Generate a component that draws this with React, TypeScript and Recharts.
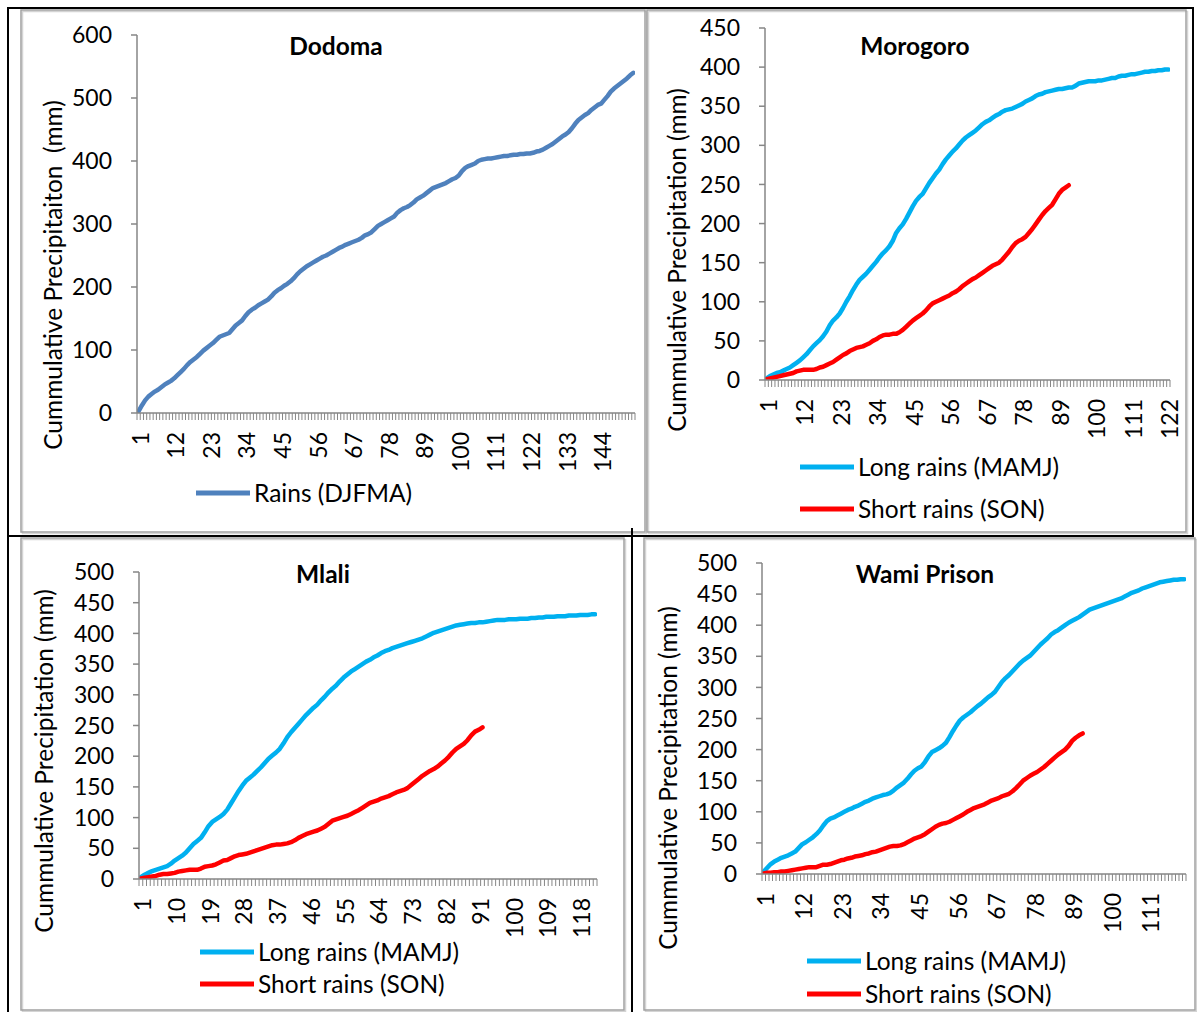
import React from "react"
import { LineChart, Line, XAxis, YAxis } from "recharts"

const FONT = "Lato, 'Open Sans', sans-serif"
const AXIS = "#868686"
const BLUE = "#4F81BD"
const CYAN = "#00B0F0"
const RED = "#FF0000"

function range(n: number) {
  return Array.from({ length: n }, (_, i) => i + 1)
}

// ---------------- data ----------------

// Dodoma (DJFMA)
const dodomaDays = range(154)
const dodomaXLabels = [1, 12, 23, 34, 45, 56, 67, 78, 89, 100, 111, 122, 133, 144]
const dodomaYTicks = [0, 100, 200, 300, 400, 500, 600]
const dodomaRains = [
  3, 12, 20, 26, 30, 34, 37, 41, 45, 48,
  51, 55, 60, 65, 70, 76, 81, 85, 89, 94,
  99, 103, 107, 111, 116, 121, 123, 125, 127, 133,
  139, 143, 147, 154, 160, 164, 167, 171, 174, 177,
  180, 185, 191, 195, 198, 202, 205, 209, 214, 220,
  225, 229, 233, 236, 239, 242, 245, 248, 250, 253,
  256, 259, 262, 264, 267, 269, 271, 273, 275, 278,
  282, 284, 287, 292, 297, 300, 303, 306, 309, 312,
  318, 322, 325, 327, 330, 334, 339, 342, 345, 349,
  353, 357, 359, 361, 363, 365, 368, 371, 373, 377,
  384, 389, 392, 394, 396, 400, 402, 403, 404, 404,
  405, 406, 407, 408, 408, 409, 410, 410, 411, 411,
  412, 412, 413, 415, 416, 418, 421, 424, 427, 431,
  435, 439, 442, 446, 452, 459, 465, 469, 473, 476,
  481, 485, 489, 491, 497, 503, 510, 515, 519, 523,
  527, 531, 536, 540,
]

// Morogoro
const moroDays = range(122)
const moroXLabels = [1, 12, 23, 34, 45, 56, 67, 78, 89, 100, 111, 122]
const moroYTicks = [0, 50, 100, 150, 200, 250, 300, 350, 400, 450]
const moroLong = [
  2, 5, 7, 9, 10, 12, 14, 16, 19, 22,
  25, 29, 33, 38, 43, 47, 51, 56, 62, 70,
  76, 80, 85, 92, 100, 107, 115, 122, 128, 132,
  136, 141, 146, 151, 157, 162, 166, 171, 178, 188,
  194, 199, 206, 214, 222, 229, 234, 238, 245, 252,
  258, 264, 269, 276, 282, 287, 292, 296, 301, 306,
  310, 313, 316, 319, 323, 327, 330, 332, 335, 338,
  340, 343, 345, 346, 347, 349, 351, 353, 356, 358,
  360, 363, 365, 366, 368, 369, 370, 371, 372, 372,
  373, 374, 374, 376, 379, 380, 381, 382, 382, 382,
  383, 383, 384, 385, 386, 386, 388, 389, 389, 390,
  391, 391, 392, 393, 394, 394, 395, 395, 396, 396,
  397, 397,
]
const moroShort = [
  1, 2, 3, 4, 5, 6, 7, 8, 9, 11,
  12, 13, 13, 13, 13, 14, 16, 17, 19, 21,
  23, 26, 29, 32, 34, 37, 39, 41, 42, 43,
  45, 47, 50, 52, 55, 57, 58, 58, 59, 59,
  61, 64, 68, 72, 76, 79, 82, 85, 89, 94,
  98, 100, 102, 104, 106, 108, 111, 113, 116, 120,
  123, 126, 129, 131, 134, 137, 140, 143, 146, 148,
  150, 154, 159, 164, 170, 175, 178, 180, 183, 188,
  193, 199, 205, 211, 216, 220, 224, 231, 238, 243,
  246, 249,
]

// Mlali
const mlaliDays = range(122)
const mlaliXLabels = [1, 10, 19, 28, 37, 46, 55, 64, 73, 82, 91, 100, 109, 118]
const mlaliYTicks = [0, 50, 100, 150, 200, 250, 300, 350, 400, 450, 500]
const mlaliLong = [
  3, 7, 10, 13, 15, 17, 19, 21, 25, 30,
  34, 38, 43, 50, 57, 62, 67, 76, 86, 93,
  97, 101, 106, 113, 123, 133, 143, 152, 160, 165,
  170, 176, 182, 189, 196, 201, 206, 212, 221, 231,
  239, 246, 253, 260, 267, 273, 279, 284, 291, 297,
  304, 310, 315, 322, 328, 333, 338, 342, 346, 350,
  354, 357, 361, 364, 368, 371, 373, 376, 378, 380,
  382, 384, 386, 388, 390, 392, 395, 398, 401, 403,
  405, 407, 409, 411, 413, 414, 415, 416, 417, 417,
  418, 418, 419, 420, 421, 422, 422, 422, 423, 423,
  423, 424, 424, 424, 425, 425, 426, 426, 427, 427,
  427, 428, 428, 428, 429, 429, 429, 430, 430, 430,
  431, 431,
]
const mlaliShort = [
  1, 2, 3, 4, 5, 7, 8, 8, 9, 10,
  12, 13, 14, 15, 15, 15, 17, 20, 21, 22,
  24, 27, 30, 31, 34, 37, 39, 40, 41, 43,
  45, 47, 49, 51, 53, 55, 56, 56, 57, 58,
  60, 63, 67, 70, 73, 75, 77, 79, 82, 85,
  90, 95, 97, 99, 101, 103, 106, 109, 112, 116,
  120, 124, 126, 128, 131, 133, 135, 138, 141, 143,
  145, 148, 153, 158, 163, 168, 172, 176, 179, 183,
  188, 193, 199, 206, 212, 216, 220, 226, 234, 240,
  243, 247,
]

// Wami Prison
const wamiDays = range(121)
const wamiXLabels = [1, 12, 23, 34, 45, 56, 67, 78, 89, 100, 111]
const wamiYTicks = [0, 50, 100, 150, 200, 250, 300, 350, 400, 450, 500]
const wamiLong = [
  4, 10, 16, 20, 23, 26, 28, 30, 33, 36,
  42, 48, 51, 55, 59, 64, 70, 78, 85, 89,
  91, 94, 97, 100, 103, 105, 108, 110, 113, 116,
  118, 121, 123, 125, 127, 128, 130, 134, 139, 143,
  147, 153, 160, 166, 170, 173, 180, 189, 196, 199,
  202, 206, 211, 220, 230, 239, 247, 252, 256, 260,
  265, 270, 274, 279, 284, 288, 293, 301, 309, 315,
  320, 326, 332, 338, 343, 347, 351, 357, 363, 369,
  374, 379, 385, 389, 392, 396, 400, 404, 407, 410,
  413, 417, 421, 425, 427, 429, 431, 433, 435, 437,
  439, 441, 443, 446, 449, 452, 454, 456, 459, 461,
  463, 465, 467, 469, 470, 471, 472, 473, 473, 474,
  474,
]
const wamiShort = [
  1, 2, 2, 3, 3, 4, 4, 5, 6, 7,
  8, 9, 10, 11, 11, 11, 13, 15, 15, 16,
  18, 20, 22, 23, 25, 26, 28, 29, 30, 32,
  33, 35, 36, 38, 40, 42, 44, 45, 45, 46,
  48, 51, 54, 57, 59, 61, 64, 68, 72, 76,
  79, 81, 82, 84, 87, 90, 93, 96, 100, 103,
  106, 108, 110, 112, 115, 118, 120, 122, 125, 127,
  129, 133, 138, 144, 150, 154, 158, 161, 164, 168,
  172, 177, 182, 187, 192, 196, 200, 206, 214, 219,
  223, 226,
]

// ---------------- layout ----------------

type Series = { name: string; values: number[]; color: string }
type PanelSpec = {
  title: string
  titleX: number
  titleY: number
  yLabel: string
  yLabelX: number
  yLabelY: number
  frame: { x: number; y: number; w: number; h: number }
  plot: { left: number; top: number; right: number; bottom: number }
  yMax: number
  yTicks: number[]
  days: number[]
  labels: number[]
  series: Series[]
  legendX: number
  legendYs: number[]
}

const panels: PanelSpec[] = [
  {
    title: "Dodoma", titleX: 336, titleY: 55,
    yLabel: "Cummulative Precipitaiton  (mm)", yLabelX: 62, yLabelY: 275,
    frame: { x: 21, y: 10, w: 624, h: 522 },
    plot: { left: 137, top: 35, right: 635, bottom: 413 },
    yMax: 600, yTicks: dodomaYTicks, days: dodomaDays, labels: dodomaXLabels,
    series: [{ name: "Rains (DJFMA)", values: dodomaRains, color: BLUE }],
    legendX: 196, legendYs: [493],
  },
  {
    title: "Morogoro", titleX: 915, titleY: 55,
    yLabel: "Cummulative Precipitation (mm)", yLabelX: 686, yLabelY: 260,
    frame: { x: 647, y: 10, w: 539, h: 522 },
    plot: { left: 765, top: 28, right: 1170, bottom: 380 },
    yMax: 450, yTicks: moroYTicks, days: moroDays, labels: moroXLabels,
    series: [
      { name: "Long rains (MAMJ)", values: moroLong, color: CYAN },
      { name: "Short rains (SON)", values: moroShort, color: RED },
    ],
    legendX: 800, legendYs: [467, 509],
  },
  {
    title: "Mlali", titleX: 323, titleY: 583,
    yLabel: "Cummulative Precipitation (mm)", yLabelX: 53, yLabelY: 761,
    frame: { x: 21, y: 538, w: 603, h: 472 },
    plot: { left: 139, top: 572, right: 597, bottom: 879 },
    yMax: 500, yTicks: mlaliYTicks, days: mlaliDays, labels: mlaliXLabels,
    series: [
      { name: "Long rains (MAMJ)", values: mlaliLong, color: CYAN },
      { name: "Short rains (SON)", values: mlaliShort, color: RED },
    ],
    legendX: 200, legendYs: [952, 984],
  },
  {
    title: "Wami Prison", titleX: 925, titleY: 583,
    yLabel: "Cummulative Precipitation (mm)", yLabelX: 677, yLabelY: 778,
    frame: { x: 644, y: 538, w: 551, h: 472 },
    plot: { left: 762, top: 563, right: 1186, bottom: 874 },
    yMax: 500, yTicks: wamiYTicks, days: wamiDays, labels: wamiXLabels,
    series: [
      { name: "Long rains (MAMJ)", values: wamiLong, color: CYAN },
      { name: "Short rains (SON)", values: wamiShort, color: RED },
    ],
    legendX: 807, legendYs: [961, 994],
  },
]

function buildRows(days: number[], series: number[][]) {
  return days.map((d, i) => {
    const row: any = { day: d }
    series.forEach((s, j) => {
      if (i < s.length) row[`s${j}`] = s[i]
    })
    return row
  })
}

// category tick: hatch mark at every category boundary, label only on listed days
function DayTick(props: any) {
  const { x, y, payload, bw, labels, last } = props
  const v = payload.value
  return (
    <g>
      <line x1={x - bw / 2} x2={x - bw / 2} y1={y} y2={y + 7} stroke={AXIS} strokeWidth={1} />
      {v === last && (
        <line x1={x + bw / 2} x2={x + bw / 2} y1={y} y2={y + 7} stroke={AXIS} strokeWidth={1} />
      )}
      {labels.includes(v) && (
        <text
          transform={`translate(${x + 2},${y + 19}) rotate(-90)`}
          textAnchor="end"
          dy="0.35em"
          fontSize={23}
          fontFamily={FONT}
          fill="#000"
        >
          {v}
        </text>
      )}
    </g>
  )
}

function Panel({ p }: { p: PanelSpec }) {
  const YW = 80
  const XH = 60
  const { frame, plot } = p
  const N = p.days.length
  const bw = (plot.right - plot.left) / N
  const margin = {
    left: plot.left - frame.x - YW,
    top: plot.top - frame.y,
    right: frame.x + frame.w - plot.right,
    bottom: frame.y + frame.h - plot.bottom - XH,
  }
  const rows = buildRows(p.days, p.series.map((s) => s.values))

  return (
    <div style={{ position: "absolute", left: frame.x, top: frame.y }}>
      <LineChart width={frame.w} height={frame.h} data={rows} margin={margin}>
        <XAxis
          dataKey="day"
          type="number"
          domain={[0.5, N + 0.5]}
          ticks={p.days}
          interval={0}
          height={XH}
          tickSize={0}
          tickMargin={0}
          tickLine={false}
          axisLine={{ stroke: AXIS, strokeWidth: 1.5 }}
          tick={(t: any) => <DayTick {...t} bw={bw} labels={p.labels} last={N} />}
          allowDataOverflow
        />
        <YAxis
          type="number"
          domain={[0, p.yMax]}
          ticks={p.yTicks}
          interval={0}
          width={YW}
          tickSize={6}
          tickMargin={19}
          axisLine={{ stroke: AXIS, strokeWidth: 1.5 }}
          tickLine={{ stroke: AXIS, strokeWidth: 1.5 }}
          tick={{ fill: "#000", fontSize: 23, fontFamily: FONT }}
          allowDataOverflow
        />
        {p.series.map((s, j) => (
          <Line
            key={s.name}
            dataKey={`s${j}`}
            type="linear"
            stroke={s.color}
            strokeWidth={4.5}
            strokeLinejoin="round"
            strokeLinecap="round"
            dot={false}
            activeDot={false}
            isAnimationActive={false}
          />
        ))}
      </LineChart>
    </div>
  )
}

function Overlay() {
  return (
    <svg
      width={1197}
      height={1012}
      style={{ position: "absolute", left: 0, top: 0, pointerEvents: "none" }}
    >
      {/* chart area frames */}
      {panels.map((p) => (
        <g key={p.title}>
          <rect
            x={p.frame.x + 1.5}
            y={p.frame.y + 1.5}
            width={p.frame.w}
            height={p.frame.h}
            fill="none"
            stroke="#d4d4d4"
            strokeWidth={1.5}
          />
          <rect
            x={p.frame.x}
            y={p.frame.y}
            width={p.frame.w}
            height={p.frame.h}
            fill="none"
            stroke="#a0a0a0"
            strokeWidth={1.5}
          />
        </g>
      ))}

      {/* table lines */}
      <g stroke="#000" strokeWidth={2}>
        <line x1={7} y1={8} x2={1194} y2={8} />
        <line x1={8} y1={7} x2={8} y2={1012} />
        <line x1={1193} y1={7} x2={1193} y2={537} />
        <line x1={7} y1={536} x2={1194} y2={536} />
        <line x1={632} y1={528} x2={632} y2={1012} />
      </g>

      {panels.map((p) => (
        <g key={p.title + "-text"} fontFamily={FONT} fill="#000">
          <text x={p.titleX} y={p.titleY} textAnchor="middle" fontSize={24.5} fontWeight={700}>
            {p.title}
          </text>
          <text
            transform={`translate(${p.yLabelX},${p.yLabelY}) rotate(-90)`}
            textAnchor="middle"
            fontSize={24.5}
            style={{ whiteSpace: "pre" }}
          >
            {p.yLabel}
          </text>
          {p.series.map((s, j) => (
            <g key={s.name}>
              <line
                x1={p.legendX}
                x2={p.legendX + 54}
                y1={p.legendYs[j]}
                y2={p.legendYs[j]}
                stroke={s.color}
                strokeWidth={5}
              />
              <text x={p.legendX + 58} y={p.legendYs[j]} dy="0.35em" fontSize={24.5}>
                {s.name}
              </text>
            </g>
          ))}
        </g>
      ))}
    </svg>
  )
}

export default function App() {
  return (
    <div
      style={{
        position: "absolute",
        left: 0,
        top: 0,
        width: 1197,
        height: 1012,
        background: "#fff",
        fontFamily: FONT,
      }}
    >
      {panels.map((p) => (
        <Panel key={p.title} p={p} />
      ))}
      <Overlay />
    </div>
  )
}
